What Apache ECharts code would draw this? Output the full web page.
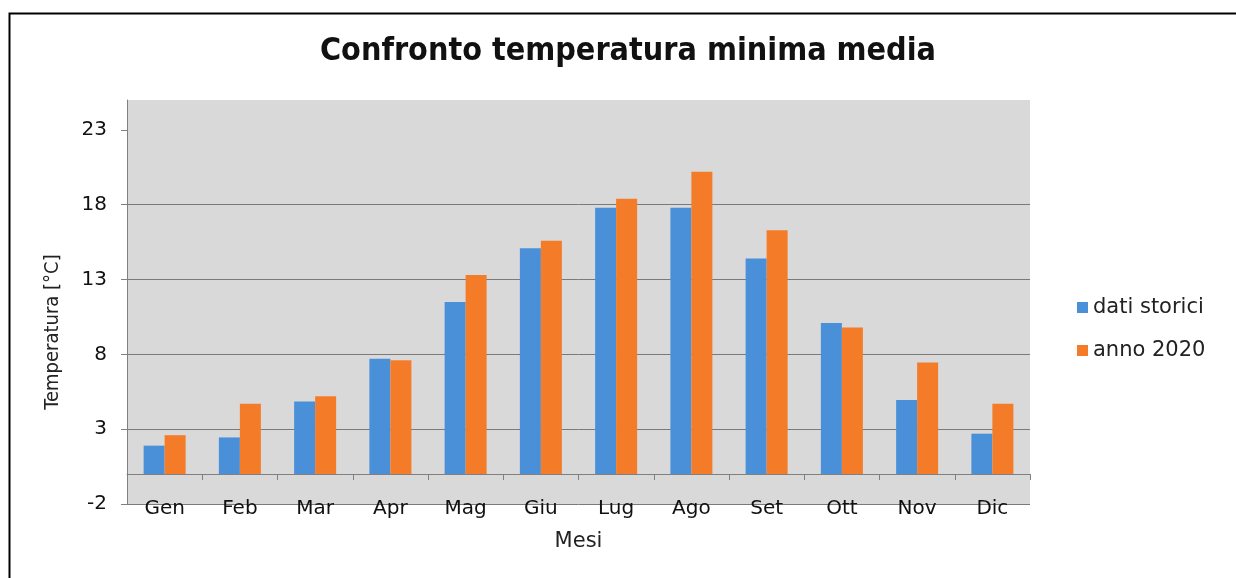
<!DOCTYPE html>
<html>
<head>
<meta charset="utf-8">
<script src="https://cdn.jsdelivr.net/npm/echarts@6/dist/echarts.min.js"></script>
<style>
html,body{margin:0;padding:0;background:#fff;}
#chart{width:1236px;height:578px;}
</style>
</head>
<body>
<div id="chart"></div>
<script>
const months = ['Gen','Feb','Mar','Apr','Mag','Giu','Lug','Ago','Set','Ott','Nov','Dic'];
const seriesNames = ['dati storici','anno 2020'];
const datiStorici = [1.9, 2.45, 4.85, 7.7, 11.5, 15.1, 17.8, 17.8, 14.4, 10.1, 4.95, 2.7];
const anno2020 = [2.6, 4.7, 5.2, 7.6, 13.3, 15.6, 18.4, 20.2, 16.3, 9.8, 7.45, 4.7];
const yTicks = [-2, 3, 8, 13, 18, 23];

const condensed = 'DejaVu Sans Condensed, DejaVu Sans, sans-serif';
const font = 'DejaVu Sans, sans-serif';
const chart = echarts.init(document.getElementById('chart'));
chart.setOption({
  animation: false,
  backgroundColor: '#ffffff',
  title: {
    text: 'Confronto temperatura minima media',
    left: 623, top: 31, textAlign: 'center',
    textStyle: {fontFamily: condensed, fontWeight: 'bold', fontSize: 32, color: '#111'}
  },
  legend: {
    orient: 'vertical', left: 1072, top: 292,
    itemWidth: 11, itemHeight: 11, itemGap: 22, icon: 'rect',
    textStyle: {fontFamily: font, fontSize: 21, color: '#222'},
    data: seriesNames
  },
  grid: {
    left: 127, right: 206, top: 100, bottom: 74,
    outerBoundsMode: 'none', containLabel: false,
    show: true, backgroundColor: '#d9d9d9', borderWidth: 0
  },
  xAxis: {
    type: 'category', data: months,
    name: 'Mesi', nameLocation: 'middle', nameGap: 27,
    nameTextStyle: {fontFamily: font, fontSize: 21, color: '#222'},
    axisLine: {onZero: true, lineStyle: {color: '#808080', width: 1}},
    axisTick: {show: true, length: 6, lineStyle: {color: '#808080'}},
    axisLabel: {margin: -5, fontFamily: font, fontSize: 20, color: '#111'}
  },
  yAxis: {
    type: 'value', min: -2, max: 25, interval: 5,
    name: 'Temperatura [°C]', nameLocation: 'middle', nameGap: 64, nameRotate: 90,
    nameTextStyle: {fontFamily: condensed, fontSize: 20, color: '#222', padding: [0, 60, 0, 0]},
    axisLine: {show: true, lineStyle: {color: '#808080', width: 1}},
    axisTick: {show: true, length: 6, lineStyle: {color: '#808080'}, customValues: yTicks},
    axisLabel: {margin: 20, fontFamily: font, fontSize: 20, color: '#111', customValues: yTicks},
    splitLine: {show: true, showMaxLine: false, lineStyle: {color: '#7a7a7a', width: 1}}
  },
  series: [
    {name: seriesNames[0], type: 'bar', data: datiStorici, barWidth: 21, barGap: '0%',
     itemStyle: {color: '#4a90d9'}},
    {name: seriesNames[1], type: 'bar', data: anno2020, barWidth: 21, barGap: '0%',
     itemStyle: {color: '#f47c28'}}
  ],
  graphic: [{
    type: 'rect', left: 7, top: 11, silent: true,
    shape: {x: 0, y: 0, width: 1400, height: 800},
    style: {fill: 'none', stroke: '#000', lineWidth: 2}
  }]
});
</script>
</body>
</html>
